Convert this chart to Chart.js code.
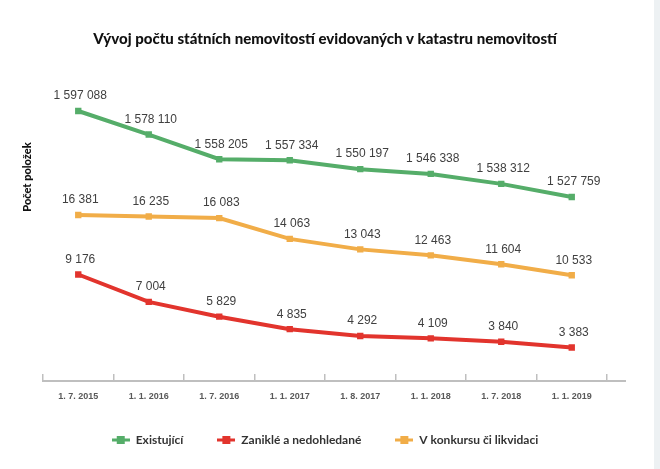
<!DOCTYPE html>
<html>
<head>
<meta charset="utf-8">
<script src="https://cdn.jsdelivr.net/npm/chart.js@4/dist/chart.umd.min.js"></script>
<style>
html,body{margin:0;padding:0;background:#fff;}
#wrap{width:660px;height:469px;position:relative;}
</style>
</head>
<body>
<div id="wrap"><canvas id="c" width="660" height="469"></canvas></div>
<script>
const categories = ['1. 7. 2015','1. 1. 2016','1. 7. 2016','1. 1. 2017','1. 8. 2017','1. 1. 2018','1. 7. 2018','1. 1. 2019'];
const existujici = [1597088,1578110,1558205,1557334,1550197,1546338,1538312,1527759];
const zanikle = [9176,7004,5829,4835,4292,4109,3840,3383];
const konkurs = [16381,16235,16083,14063,13043,12463,11604,10533];
const seriesNames = ['Existující','Zaniklé a nedohledané','V konkursu či likvidaci'];
const titleText = 'Vývoj počtu státních nemovitostí evidovaných v katastru nemovitostí';
const yTitleText = 'Počet položek';

const GREEN = '#55ad69', RED = '#e2342d', ORANGE = '#f1ad48';

function fmt(v){ return String(v).replace(/\B(?=(\d{3})+(?!\d))/g,' '); }

function makeMarker(color){
  const c = document.createElement('canvas');
  c.width = 18; c.height = 8;
  const g = c.getContext('2d');
  g.fillStyle = color;
  g.fillRect(0,2.5,18,3);
  g.fillRect(5,0,8,8);
  return c;
}
const markers = [makeMarker(GREEN), makeMarker(RED), makeMarker(ORANGE)];

const bgPlugin = {
  id:'bg',
  beforeDraw(chart){
    const ctx = chart.ctx;
    ctx.save();
    ctx.fillStyle = '#ffffff';
    ctx.fillRect(0,0,chart.width,chart.height);
    ctx.fillStyle = '#edf1f3';
    ctx.fillRect(654,0,6,chart.height);
    ctx.restore();
  },
  afterDraw(chart){
    const ctx = chart.ctx;
    const xs = chart.scales.x;
    ctx.save();
    ctx.strokeStyle = '#bfbfbf';
    ctx.lineWidth = 2;
    ctx.beginPath();
    ctx.moveTo(chart.chartArea.right, xs.top);
    ctx.lineTo(chart.chartArea.right + 19, xs.top);
    ctx.stroke();
    ctx.translate(27, 177);
    ctx.rotate(-Math.PI/2);
    ctx.fillStyle = '#111';
    ctx.font = '900 11px Lato';
    ctx.textAlign = 'center';
    ctx.textBaseline = 'middle';
    ctx.fillText(yTitleText, 0, 0);
    ctx.restore();
  }
};

const labelPlugin = {
  id:'valueLabels',
  afterDatasetsDraw(chart){
    const ctx = chart.ctx;
    ctx.save();
    ctx.font = '12px "Liberation Sans"';
    ctx.fillStyle = '#404040';
    ctx.textAlign = 'center';
    ctx.textBaseline = 'middle';
    chart.data.datasets.forEach((ds, i) => {
      const meta = chart.getDatasetMeta(i);
      meta.data.forEach((pt, j) => {
        ctx.fillText(fmt(ds.data[j]), pt.x + 2, pt.y - 15);
      });
    });
    ctx.restore();
  }
};

function ds(label, data, color, axis){
  return {
    label, data, yAxisID: axis,
    borderColor: color, backgroundColor: color,
    borderWidth: 4, pointStyle: 'rect', pointRadius: 4.5, pointHoverRadius: 4.5,
    pointBackgroundColor: color, pointBorderColor: color, pointBorderWidth: 0,
    tension: 0, fill: false
  };
}

new Chart(document.getElementById('c'), {
  type: 'line',
  data: {
    labels: categories,
    datasets: [
      ds(seriesNames[0], existujici, GREEN, 'yE'),
      ds(seriesNames[1], zanikle, RED, 'yZ'),
      ds(seriesNames[2], konkurs, ORANGE, 'yK')
    ]
  },
  options: {
    responsive: false,
    animation: false,
    devicePixelRatio: 1,
    layout: { padding: { top: 0, left: 43, right: 53, bottom: 13 } },
    plugins: {
      title: {
        display: true, text: titleText, color: '#111',
        font: { family: 'Lato', size: 15, weight: '900' },
        padding: { top: 30, bottom: 12 }
      },
      legend: {
        position: 'bottom',
        labels: {
          usePointStyle: true, pointStyleWidth: 18, padding: 34,
          color: '#333', font: { family: 'Lato', size: 12, weight: 'bold' },
          generateLabels(chart){
            const items = Chart.defaults.plugins.legend.labels.generateLabels(chart);
            items.forEach(it => { it.pointStyle = markers[it.datasetIndex]; });
            return items;
          }
        }
      },
      tooltip: { enabled: false }
    },
    scales: {
      x: {
        type: 'category', offset: true,
        afterFit(scale){ scale.height = 19; },
        border: { display: true, color: '#bfbfbf', width: 2 },
        grid: { display: true, drawOnChartArea: false, offset: true, color: '#bfbfbf', lineWidth: 1.5, tickLength: -7, drawTicks: true },
        ticks: { autoSkip: false, maxRotation: 0, padding: 17, color: '#595959', font: { family: 'Liberation Sans', size: 9, weight: 'bold' } }
      },
      yE: { display: false, min: 1379333, max: 1638219 },
      yZ: { display: false, min: 723, max: 26201 },
      yK: { display: false, min: 264, max: 31430 }
    }
  },
  plugins: [bgPlugin, labelPlugin]
});
</script>
</body>
</html>
